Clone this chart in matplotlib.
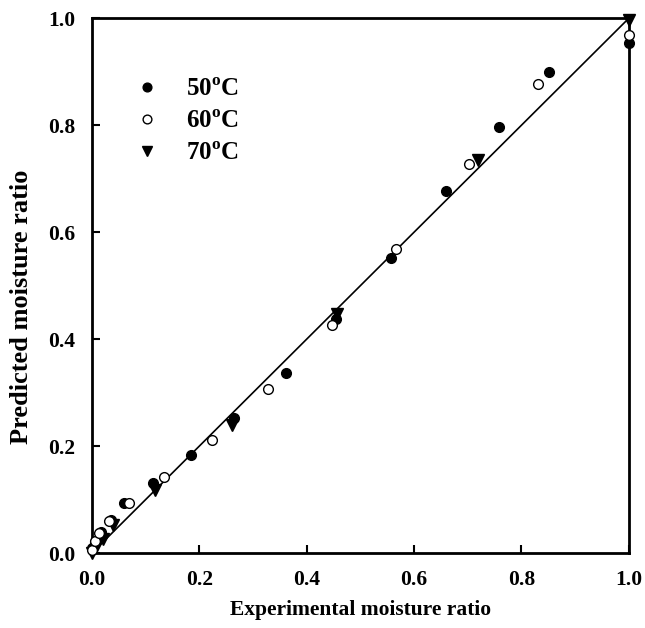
import matplotlib
matplotlib.use("Agg")
import matplotlib.pyplot as plt

plt.rcParams["font.family"] = ["Liberation Serif", "DejaVu Serif"]
plt.rcParams["font.weight"] = "bold"
plt.rcParams["mathtext.fontset"] = "custom"
plt.rcParams["mathtext.rm"] = "Liberation Serif:bold"
plt.rcParams["mathtext.bf"] = "Liberation Serif:bold"

# 50 C (filled circles)
x50 = [0.0, 0.005, 0.017, 0.036, 0.060, 0.114, 0.184, 0.264, 0.361, 0.454, 0.557, 0.659, 0.758, 0.851, 1.0]
y50 = [0.010, 0.020, 0.039, 0.062, 0.093, 0.131, 0.183, 0.253, 0.336, 0.437, 0.551, 0.677, 0.796, 0.899, 0.953]

# 60 C (open circles)
x60 = [0.0, 0.005, 0.013, 0.032, 0.069, 0.134, 0.223, 0.328, 0.447, 0.566, 0.702, 0.831, 1.0]
y60 = [0.006, 0.022, 0.037, 0.060, 0.093, 0.142, 0.212, 0.307, 0.426, 0.569, 0.727, 0.877, 0.968]

# 70 C (triangles)
x70 = [0.0, 0.008, 0.020, 0.040, 0.117, 0.261, 0.457, 0.719, 1.0]
y70 = [0.0, 0.012, 0.026, 0.053, 0.118, 0.239, 0.447, 0.735, 0.996]

labels = [r"50$^{\mathrm{o}}$C", r"60$^{\mathrm{o}}$C", r"70$^{\mathrm{o}}$C"]

fig = plt.figure(figsize=(6.45, 6.28), dpi=100)
ax = fig.add_axes([0.1426, 0.1194, 0.8324, 0.8516])

ax.plot([0, 1], [0, 1], color="black", lw=1.2, zorder=1)
ax.plot(x50, y50, "o", color="black", ms=7, ls="none", label=labels[0], zorder=3, clip_on=False)
ax.plot(x60, y60, "o", mfc="white", mec="black", mew=1.0, ms=7, ls="none", label=labels[1], zorder=3, clip_on=False)
ax.plot(x70, y70, "v", color="black", ms=8, ls="none", label=labels[2], zorder=2, clip_on=False)

ax.set_xlim(0, 1)
ax.set_ylim(0, 1)
ticks = [0.0, 0.2, 0.4, 0.6, 0.8, 1.0]
ax.set_xticks(ticks)
ax.set_yticks(ticks)
ax.set_xticklabels([f"{t:.1f}" for t in ticks])
ax.set_yticklabels([f"{t:.1f}" for t in ticks])
ax.tick_params(direction="in", length=6, width=1.5, labelsize=15.5)
ax.tick_params(axis="x", pad=12)
ax.tick_params(axis="y", pad=12)
for s in ax.spines.values():
    s.set_linewidth(2)

ax.set_xlabel("Experimental moisture ratio", fontsize=15.5, fontweight="bold")
ax.set_ylabel("Predicted moisture ratio", fontsize=19, fontweight="bold")
ax.xaxis.set_label_coords(0.5, -0.088)
ax.yaxis.set_label_coords(-0.11, 0.46)

ax.legend(loc="upper left", bbox_to_anchor=(0.04, 0.93), frameon=False,
          fontsize=18, handlelength=0.9, handletextpad=1.1, labelspacing=0.35,
          markerscale=0.9)

fig.savefig("out.png", dpi=100)
